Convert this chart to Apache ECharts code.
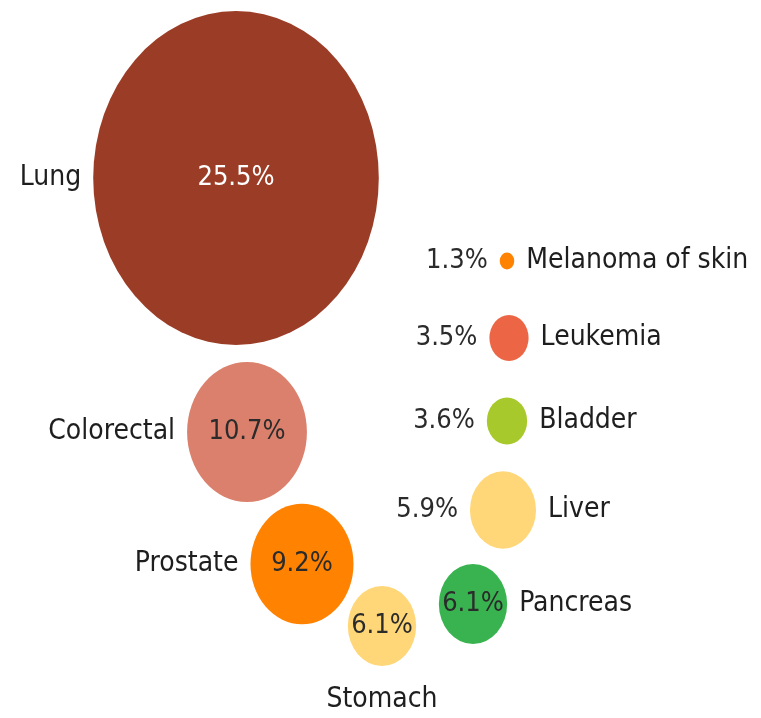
<!DOCTYPE html>
<html>
<head>
<meta charset="utf-8">
<script src="https://cdn.jsdelivr.net/npm/echarts@6/dist/echarts.min.js"></script>
<style>
  html, body { margin: 0; padding: 0; background: #fff; }
  #chart { width: 761px; height: 718px; }
</style>
</head>
<body>
<div id="chart"></div>
<script>
// cancer types and share of deaths (%)
var names = ['Lung', 'Colorectal', 'Prostate', 'Stomach', 'Pancreas', 'Liver', 'Bladder', 'Leukemia', 'Melanoma of skin'];
var shares = [25.5, 10.7, 9.2, 6.1, 6.1, 5.9, 3.6, 3.5, 1.3];
// bubble layout (chart units)
var posX = [236, 247, 302, 382, 473, 503, 507, 509, 507];
var posY = [178, 432, 564, 626, 604, 510, 421, 338, 261];
var colors = ['#9b3d26', '#db806c', '#ff8200', '#ffd778', '#38b350', '#ffd778', '#a8c92b', '#ec6645', '#ff8200'];
// where the labels go
var valuePos = ['inside', 'inside', 'inside', 'inside', 'inside', 'left', 'left', 'left', 'left'];
var namePos = ['left', 'left', 'left', 'bottom', 'right', 'right', 'right', 'right', 'right'];

var FONT = "'DejaVu Sans Condensed', 'Liberation Sans Narrow', sans-serif";

var chart = echarts.init(document.getElementById('chart'));

var sizeOf = function (v) {
    // bubbles are a bit taller than wide in the original
    return [v[2] * 11.2, v[2] * 13.1];
};

var valueData = names.map(function (n, i) {
    return {
        name: n,
        value: [posX[i], posY[i], shares[i]],
        itemStyle: { color: colors[i], opacity: 1 },
        label: {
            position: valuePos[i],
            distance: 12,
            color: i === 0 ? '#ffffff' : '#2b2b2b'
        }
    };
});

var nameData = names.map(function (n, i) {
    return {
        name: n,
        value: [posX[i], posY[i], shares[i]],
        label: { position: namePos[i], distance: namePos[i] === 'bottom' ? 20 : 12 }
    };
});

chart.setOption({
    animation: false,
    grid: { left: 0, right: 0, top: 0, bottom: 0 },
    xAxis: { type: 'value', min: 0, max: 761, show: false },
    yAxis: { type: 'value', min: 0, max: 718, inverse: true, show: false },
    series: [
        {
            type: 'scatter',
            symbol: 'circle',
            symbolSize: sizeOf,
            data: valueData,
            label: {
                show: true,
                opacity: 1,
                fontFamily: FONT,
                fontSize: 27,
                formatter: function (p) { return p.value[2].toFixed(1) + '%'; }
            }
        },
        {
            type: 'scatter',
            symbol: 'circle',
            symbolSize: sizeOf,
            itemStyle: { color: 'rgba(0,0,0,0)', opacity: 1 },
            data: nameData,
            silent: true,
            label: {
                show: true,
                opacity: 1,
                fontFamily: FONT,
                fontSize: 28,
                color: '#1e1e1e',
                formatter: '{b}'
            }
        }
    ]
});

window.addEventListener('resize', function () {
    chart.resize();
});
</script>
</body>
</html>
